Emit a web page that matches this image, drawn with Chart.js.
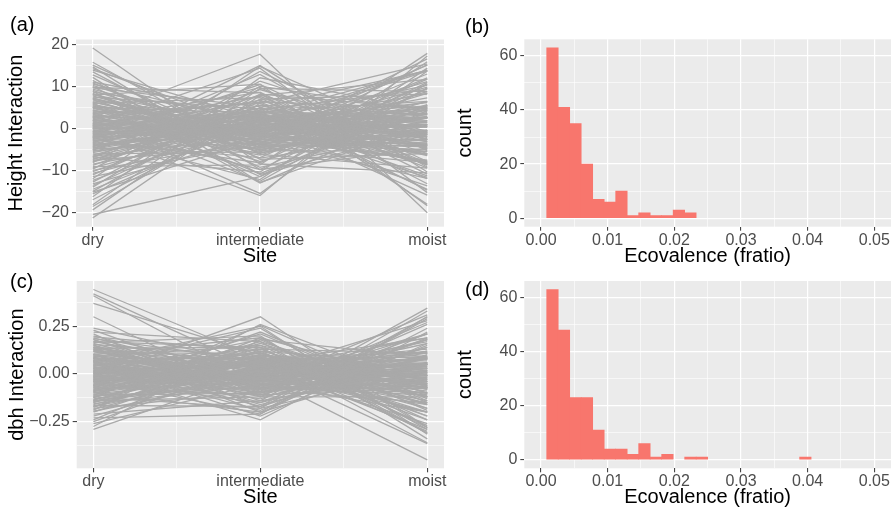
<!DOCTYPE html>
<html>
<head>
<meta charset="utf-8">
<script src="https://cdn.jsdelivr.net/npm/chart.js@4.4.1/dist/chart.umd.min.js"></script>
<style>
  body { margin: 0; background: #fff; }
  #wrap { position: relative; width: 893px; height: 511px; overflow: hidden; }
  canvas { position: absolute; }
</style>
</head>
<body>
<div id="wrap">
  <canvas id="chart-a" width="460" height="272" style="left:0;top:0"></canvas>
  <canvas id="chart-b" width="447" height="272" style="left:446px;top:0"></canvas>
  <canvas id="chart-c" width="460" height="256" style="left:0;top:255px"></canvas>
  <canvas id="chart-d" width="447" height="256" style="left:446px;top:255px"></canvas>
</div>
<script>
// sites (x categories of the interaction plots)
const sites = ["dry", "intermediate", "moist"];

// height interaction, one value per genotype and site
const heightDry = [19.1, 15.7, 15.0, 14.6, 14.2, 13.8, 13.4, 11.4, 11.0, 10.8, 10.5, 10.2, 9.9, 9.6, 9.3, 9.0, 8.6, 8.3, 8.0, 7.7,
  7.4, 7.1, 6.8, 6.5, 6.2, 5.9, 5.6, 5.3, 5.0, 4.7, 4.4, 4.1, 3.8, 3.5, 3.2, 2.9, 2.6, 2.3, 2.0, 1.7,
  1.4, 1.1, 0.8, 0.5, 0.2, -0.1, -0.4, -0.7, -1.0, -1.3, -1.6, -1.9, -2.2, -2.5, -2.8, -3.1, -3.4, -3.7, -4.0, -4.3,
  -4.6, -4.9, -5.2, -5.5, -5.8, -6.1, -6.4, -6.7, -7.0, -7.3, -7.6, -7.9, -8.2, -8.5, -8.8, -9.1, -9.4, -9.7, -10.0, -10.3,
  -10.7, -11.1, -11.5, -12.0, -12.4, -12.8, -13.2, -13.6, -14.0, -14.5, -15.0, -15.6, -16.3, -17.0, -18.2, -18.6, -19.4, -20.5, -21.3, 2.5,
  -1.2, 1.9, 3.0, -2.1, 6.0, 1.0, -4.5, 7.9, 12.1, -6.8, 0.3, -0.9, 5.4, -3.6, 9.7, 12.7, -15.2, 8.8, -2.7, 0.6,
  3.3, -2.6, 0.9, -5.0, 6.3, -1.8, 2.1, -3.9, 4.9, -0.6, 1.5, -6.6, 7.2, -2.3, 0.0, 5.7, -4.2, 2.8, -1.1, 3.9,
  -7.4, 1.2, -0.2, 6.9, -3.0, 4.3, -5.4, 0.4, 8.2, -1.5, 2.4, -4.7, 5.1, -2.0, 0.7, -8.0, 3.6, -0.8, 1.8, -3.3];
const heightInt = [-8.5, -6.2, -3.1, -9.8, -0.5, 2.1, -7.4, -11.0, 3.5, -5.3, 1.2, -2.6, -9.3, 5.1, -1.4, -4.0, 2.7, -7.1, 0.4, -3.3,
  4.6, -0.9, -5.8, 1.9, -2.2, 7.3, -4.6, 0.8, 3.6, -1.7, -7.9, 2.4, -0.2, 5.9, -3.7, 1.3, -5.1, 8.6, -1.1, 3.0,
  -2.8, 0.2, -6.4, 4.2, -0.6, 2.0, -3.9, 6.7, -1.5, 1.0, -4.8, 3.4, -0.3, 10.4, -2.4, 1.7, -7.0, 4.8, -1.0, 0.6,
  2.9, -3.4, 7.9, -0.8, 1.5, -5.6, 4.0, -2.0, 9.2, 0.1, -4.4, 2.6, 13.5, -1.3, 5.5, -8.7, 1.1, 11.2, -2.9, 3.9,
  -0.4, 6.3, -3.6, 14.7, 2.2, 8.1, -1.8, 4.4, 10.0, 0.9, 6.9, 1.8, 12.0, 3.2, 9.5, 4.9, 7.8, -11.5, 6.0, 17.6,
  -16.0, -15.5, -12.6, -12.2, -11.5, 14.3, 14.9, 10.5, -12.9, -10.4, -9.8, 9.7, -10.8, 12.8, 8.4, -4.6, -2.5, -13.0, -8.2, 7.6,
  -1.2, 2.5, -3.3, 1.8, -2.7, 4.1, -0.4, 0.9, -4.5, 3.0, -1.9, 2.2, -3.8, 5.4, -0.7, -2.0, 1.4, -5.1, 0.3, 2.6,
  3.7, -6.0, 1.0, -1.6, 4.8, -3.1, 0.6, 2.9, -4.2, -0.1, 6.2, 1.9, -2.5, -0.9, 3.3, 2.0, -5.5, 0.1, -1.3, 3.9];
const heightMoist = [-10.6, -9.5, -11.9, -4.8, -13.7, -15.9, -6.0, -0.4, -14.5, -5.5, -11.7, -7.6, -0.6, -14.7, -7.9, -5.0, -11.3, -1.2, -8.4, -4.4,
  -12.0, -6.2, -1.0, -8.4, -4.0, -13.2, -1.0, -6.1, -8.6, -3.0, 3.5, -6.5, -3.6, -9.4, 0.5, -4.2, 2.5, -10.9, -0.9, -4.7,
  1.4, -1.3, 5.6, -4.7, 0.4, -1.9, 4.3, -6.0, 2.5, 0.3, 6.4, -1.5, 2.5, -7.9, 5.2, 1.4, 10.4, -1.1, 5.0, 3.7,
  1.7, 8.3, -2.7, 6.3, 4.3, 11.7, 2.4, 8.7, -2.2, 7.2, 12.0, 5.3, -5.3, 9.8, 3.3, 17.8, 8.3, -1.5, 12.9, 6.4,
  11.1, 4.8, 15.1, -2.7, 10.2, 4.7, 15.0, 9.2, 4.0, 13.6, 8.1, 13.8, 4.3, 13.8, 8.7, 13.7, 11.6, 10.6, 15.3, -20.1,
  17.2, 13.6, 9.6, 14.3, 5.5, -15.3, -10.4, -18.4, 0.8, 15.8, 9.5, -8.8, 5.4, -9.2, -18.1, -8.1, 16.5, 4.2, 10.9, -8.2,
  -2.0, 0.3, 2.6, 3.4, -3.8, -2.5, -1.5, 3.2, -0.6, -2.6, 0.8, 4.7, -3.5, -3.2, 0.9, -3.9, 2.6, 2.4, 0.9, -6.3,
  3.5, 4.6, -0.7, -5.5, -1.9, -1.4, 4.9, -3.2, -4.1, 1.8, -8.7, 2.6, -2.7, 2.8, -4.1, 6.1, 1.8, 0.9, -0.6, -0.5];

// dbh interaction, one value per genotype and site
const dbhDry = [0.443, 0.42, 0.41, 0.37, 0.30, 0.24, 0.23, 0.22, 0.21, 0.20, 0.195, 0.19, 0.185, 0.18, 0.17, 0.165, 0.16, 0.155, 0.15, 0.14,
  0.135, 0.13, 0.125, 0.12, 0.11, 0.105, 0.10, 0.095, 0.09, 0.085, 0.08, 0.075, 0.07, 0.065, 0.06, 0.055, 0.05, 0.045, 0.04, 0.035,
  0.03, 0.025, 0.02, 0.015, 0.01, 0.005, 0.0, -0.005, -0.01, -0.015, -0.02, -0.025, -0.03, -0.035, -0.04, -0.045, -0.05, -0.055, -0.06, -0.065,
  -0.07, -0.075, -0.08, -0.085, -0.09, -0.095, -0.10, -0.105, -0.11, -0.115, -0.12, -0.125, -0.13, -0.135, -0.14, -0.145, -0.15, -0.155, -0.16, -0.165,
  -0.17, -0.175, -0.18, -0.185, -0.19, -0.195, -0.20, -0.21, -0.22, -0.23, -0.24, -0.25, -0.26, -0.275, -0.29, 0.02, 0.06, -0.03, 0.04, 0.12,
  0.08, 0.14, -0.06, 0.17, -0.12, 0.01, -0.02, 0.09, -0.09, 0.03, -0.04, 0.13, -0.14, 0.07, -0.07, 0.18, -0.17, 0.10, -0.11, 0.0,
  0.062, -0.038, 0.011, -0.092, 0.118, -0.016, 0.043, -0.067, 0.087, -0.004, 0.029, -0.121, 0.143, -0.048, 0.003, 0.102, -0.078, 0.052, -0.022, 0.071,
  -0.136, 0.021, -0.009, 0.127, -0.057, 0.081, -0.099, 0.008, 0.152, -0.028, 0.046, -0.085, 0.095, -0.036, 0.014, -0.148, 0.066, -0.013, 0.034, -0.061];
const dbhInt = [0.08, 0.02, -0.05, 0.10, -0.12, 0.05, -0.08, 0.17, -0.18, 0.0, 0.12, -0.03, 0.07, -0.11, 0.03, 0.20, -0.06, 0.09, -0.14, 0.01,
  0.14, -0.09, 0.05, -0.02, 0.11, -0.16, 0.04, -0.05, 0.15, -0.01, 0.08, -0.12, 0.02, 0.25, -0.07, 0.06, -0.03, 0.13, -0.19, 0.0,
  0.09, -0.10, 0.04, -0.04, 0.18, -0.01, 0.07, -0.13, 0.02, 0.30, -0.06, 0.10, -0.02, 0.05, -0.15, 0.12, 0.0, -0.08, 0.16, 0.03,
  -0.11, 0.06, -0.04, 0.22, 0.01, -0.20, 0.08, -0.01, 0.14, -0.07, 0.04, 0.255, -0.03, 0.10, -0.12, 0.02, 0.19, -0.06, 0.07, -0.17,
  0.0, 0.12, -0.09, 0.05, 0.26, -0.02, 0.09, -0.14, 0.03, -0.21, 0.13, 0.06, -0.05, 0.18, 0.01, -0.24, -0.22, -0.21, 0.24, -0.01,
  0.04, -0.20, 0.21, 0.14, -0.18, 0.11, -0.08, -0.15, 0.15, -0.05, 0.06, 0.07, -0.04, -0.17, 0.17, -0.07, 0.08, 0.19, -0.10, 0.11,
  -0.021, 0.046, -0.061, 0.032, -0.049, 0.074, -0.007, 0.016, -0.081, 0.055, -0.034, 0.041, -0.068, 0.097, -0.012, -0.036, 0.025, -0.092, 0.005, 0.047,
  0.067, -0.108, 0.018, -0.029, 0.086, -0.056, 0.011, 0.052, -0.076, -0.002, 0.112, 0.034, -0.045, -0.016, 0.059, 0.036, -0.099, 0.002, -0.024, 0.07];
const dbhMoist = [-0.30, -0.26, -0.20, -0.36, -0.12, -0.29, -0.15, -0.31, 0.02, -0.20, -0.27, -0.16, -0.24, -0.07, -0.20, -0.34, -0.10, -0.22, 0.0, -0.15,
  -0.28, -0.04, -0.18, -0.10, -0.22, 0.06, -0.14, -0.05, -0.24, -0.07, -0.16, 0.05, -0.09, -0.315, 0.01, -0.12, -0.02, -0.18, 0.15, -0.04,
  -0.12, 0.08, -0.06, 0.03, -0.19, 0.0, -0.07, 0.14, -0.01, -0.28, 0.08, -0.08, 0.05, -0.02, 0.19, -0.08, 0.05, 0.14, -0.10, 0.04,
  0.18, 0.01, 0.12, -0.14, 0.08, 0.29, 0.02, 0.11, -0.03, 0.18, 0.08, -0.13, 0.16, 0.03, 0.26, 0.12, -0.04, 0.21, 0.09, 0.33,
  0.17, 0.05, 0.27, 0.13, -0.07, 0.21, 0.11, 0.345, 0.19, 0.30, 0.11, 0.19, 0.31, 0.09, 0.28, 0.22, 0.16, 0.24, -0.28, -0.45,
  -0.365, 0.06, -0.15, -0.31, 0.30, -0.12, 0.10, 0.06, -0.06, 0.02, -0.02, -0.20, 0.18, 0.10, -0.10, -0.11, 0.09, -0.29, 0.21, -0.11,
  -0.041, -0.008, 0.05, 0.06, -0.069, -0.058, -0.036, 0.051, -0.006, -0.051, 0.005, 0.08, -0.075, -0.049, 0.009, -0.066, 0.053, 0.04, 0.017, -0.118,
  0.069, 0.087, -0.009, -0.098, -0.03, -0.025, 0.088, -0.06, -0.076, 0.03, -0.158, 0.051, -0.05, 0.052, -0.073, 0.112, 0.033, 0.011, -0.01, -0.009];

// ecovalence histograms: 30 bins over 0..0.05, counts for bins 1..29
const binWidth = 0.05 / 29;
const ecoCountsHeight = [63, 41, 35, 20, 7, 6, 10, 1, 2, 1, 1, 3, 2, 0, 0, 0, 0, 0, 0, 0, 0, 0, 0, 0, 0, 0, 0, 0, 0];
const ecoCountsDbh = [63, 48, 23, 23, 11, 4, 4, 2, 6, 1, 2, 0, 1, 1, 0, 0, 0, 0, 0, 0, 0, 0, 1, 0, 0, 0, 0, 0, 0];

// tick labels
const heightTicks = [-20, -10, 0, 10, 20];
const heightMinor = [-15, -5, 5, 15];
const dbhTicks = [-0.25, 0, 0.25];
const dbhMinor = [-0.375, -0.125, 0.125, 0.375];
const siteTicks = [1, 2, 3];
const siteMinor = [1.5, 2.5];
const ecoTicks = [0, 0.01, 0.02, 0.03, 0.04, 0.05];
const ecoMinor = [0.005, 0.015, 0.025, 0.035, 0.045];
const countTicks = [0, 20, 40, 60];
const countMinor = [10, 30, 50];

Chart.defaults.font.family = "'Liberation Sans', Arial, sans-serif";
Chart.defaults.animation = false;

const minus = (s) => s.replace("-", "\u2212");

// grey panel background + (a)/(b)/... labels
const panelDecor = {
  id: "panelDecor",
  beforeDraw(chart) {
    const { ctx, chartArea: a } = chart;
    ctx.save();
    ctx.fillStyle = "#ebebeb";
    ctx.fillRect(a.left, a.top, a.right - a.left, a.bottom - a.top);
    ctx.restore();
  },
  afterDraw(chart, args, opts) {
    const ctx = chart.ctx;
    ctx.save();
    ctx.font = "20px 'Liberation Sans', Arial, sans-serif";
    ctx.fillStyle = "#000";
    ctx.textBaseline = "middle";
    ctx.fillText(opts.label, opts.x, opts.y);
    ctx.restore();
  }
};
Chart.register(panelDecor);

function axis(o) {
  const isMajor = (v) => o.major.includes(v);
  return {
    type: "linear",
    min: o.min,
    max: o.max,
    offset: false,
    afterBuildTicks: (s) => {
      s.ticks = o.major.concat(o.minor).sort((a, b) => a - b).map((v) => ({ value: v }));
    },
    afterFit: (s) => {
      if (o.horizontal) s.height = o.size; else s.width = o.size;
    },
    grid: {
      offset: false,
      color: "#ffffff",
      lineWidth: (c) => (c.tick && isMajor(c.tick.value) ? 1.2 : 0.6),
      tickColor: (c) => (c.tick && isMajor(c.tick.value) ? "#333333" : "rgba(0,0,0,0)"),
      tickLength: 4,
      tickWidth: 1
    },
    border: { display: false },
    ticks: {
      autoSkip: false,
      maxRotation: 0,
      padding: o.horizontal ? 0 : 3,
      color: "#4d4d4d",
      font: { size: 16 },
      callback: (v) => (isMajor(v) ? o.fmt(v) : "")
    },
    title: {
      display: true,
      text: o.title,
      color: "#000",
      font: { size: 20 },
      padding: o.horizontal ? { top: 0, bottom: o.titlePad } : { top: o.titlePad, bottom: 0 }
    }
  };
}

function interactionChart(id, dry, inter, moist, cfg) {
  const datasets = dry.map((d, i) => ({
    data: [{ x: 1, y: d }, { x: 2, y: inter[i] }, { x: 3, y: moist[i] }],
    borderColor: "#a9a9a9",
    borderWidth: 1.3,
    pointRadius: 0,
    tension: 0
  }));
  new Chart(document.getElementById(id), {
    type: "line",
    data: { datasets },
    options: {
      responsive: false,
      devicePixelRatio: 1,
      layout: { padding: cfg.padding },
      plugins: {
        legend: { display: false },
        tooltip: { enabled: false },
        panelDecor: cfg.label
      },
      scales: {
        x: axis({ horizontal: true, min: 0.9, max: 3.1, major: siteTicks, minor: siteMinor,
          fmt: (v) => sites[v - 1], title: "Site", size: cfg.xSize, titlePad: cfg.xTitlePad }),
        y: axis({ horizontal: false, min: cfg.yMin, max: cfg.yMax, major: cfg.yMajor, minor: cfg.yMinor,
          fmt: cfg.yFmt, title: cfg.yTitle, size: cfg.ySize, titlePad: cfg.yTitlePad })
      }
    }
  });
}

function histChart(id, counts, cfg) {
  new Chart(document.getElementById(id), {
    type: "bar",
    data: {
      datasets: [{
        // empty bins get no bar at all
        data: counts.map((c, i) => ({ x: (i + 1) * binWidth, y: c === 0 ? null : c })),
        backgroundColor: "#f8766d",
        borderWidth: 0,
        barPercentage: 1,
        categoryPercentage: 1
      }]
    },
    options: {
      responsive: false,
      devicePixelRatio: 1,
      layout: { padding: cfg.padding },
      plugins: {
        legend: { display: false },
        tooltip: { enabled: false },
        panelDecor: cfg.label
      },
      scales: {
        x: axis({ horizontal: true, min: -0.0025, max: 0.0525, major: ecoTicks, minor: ecoMinor,
          fmt: (v) => v.toFixed(2), title: "Ecovalence (fratio)", size: cfg.xSize, titlePad: cfg.xTitlePad }),
        y: axis({ horizontal: false, min: -3.15, max: 66.15, major: countTicks, minor: countMinor,
          fmt: (v) => String(v), title: "count", size: 78.3, titlePad: 7 })
      }
    }
  });
}

interactionChart("chart-a", heightDry, heightInt, heightMoist, {
  padding: { top: 39.5, right: 16, bottom: 0, left: 0 },
  label: { label: "(a)", x: 10, y: 25 },
  xSize: 45.3, xTitlePad: 4,
  yMin: -23.4, yMax: 21.1, yMajor: heightTicks, yMinor: heightMinor,
  yFmt: (v) => minus(String(v)), yTitle: "Height Interaction", ySize: 76, yTitlePad: 4
});

histChart("chart-b", ecoCountsHeight, {
  padding: { top: 39.3, right: 2, bottom: 0, left: 0 },
  label: { label: "(b)", x: 19, y: 27 },
  xSize: 45.3, xTitlePad: 4
});

interactionChart("chart-c", dbhDry, dbhInt, dbhMoist, {
  padding: { top: 26, right: 16, bottom: 0, left: 0 },
  label: { label: "(c)", x: 10, y: 27.5 },
  xSize: 42.7, xTitlePad: 2,
  yMin: -0.494, yMax: 0.4875, yMajor: dbhTicks, yMinor: dbhMinor,
  yFmt: (v) => minus(v.toFixed(2)), yTitle: "dbh Interaction", ySize: 76.7, yTitlePad: 5
});

histChart("chart-d", ecoCountsDbh, {
  padding: { top: 26, right: 2, bottom: 0, left: 0 },
  label: { label: "(d)", x: 19, y: 35 },
  xSize: 42.7, xTitlePad: 2
});
</script>
</body>
</html>
